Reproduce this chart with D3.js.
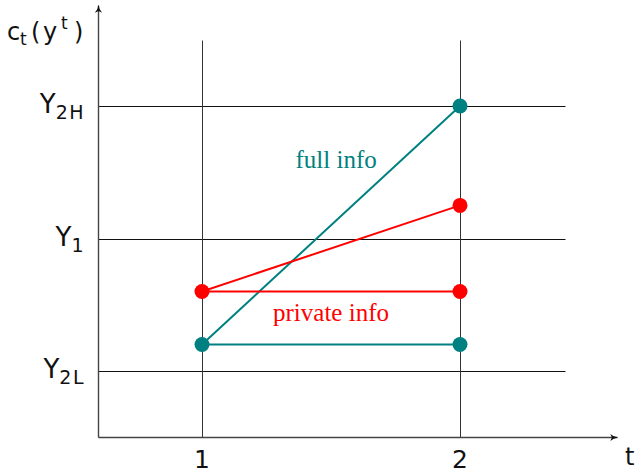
<!DOCTYPE html>
<html><head><meta charset="utf-8">
<script src="https://cdn.jsdelivr.net/npm/d3@7"></script>
<style>html,body{margin:0;padding:0;background:#fff;}</style>
</head><body>
<svg id="c" width="639" height="474"></svg>
<script>
// data
const periods = [1, 2];
const levelLabels = [{v: 1, main: "Y", sub: "2L"}, {v: 2, main: "Y", sub: "1"}, {v: 3, main: "Y", sub: "2H"}];
const fullSegments = [[{t: 1, c: 1.2}, {t: 2, c: 1.2}], [{t: 1, c: 1.2}, {t: 2, c: 3}]];
const privSegments = [[{t: 1, c: 1.6}, {t: 2, c: 1.6}], [{t: 1, c: 1.6}, {t: 2, c: 2.25}]];
const fullPoints = [{t: 1, c: 1.2}, {t: 2, c: 1.2}, {t: 2, c: 3}];
const privPoints = [{t: 1, c: 1.6}, {t: 2, c: 1.6}, {t: 2, c: 2.25}];

const teal = "#008080", red = "#ff0000";
const svg = d3.select("#c");
const x = d3.scaleLinear().domain([1, 2]).range([202, 460]);
const y = d3.scaleLinear().domain([1, 3]).range([371, 106]);

const xMin = 0.597, xGridMax = 2.407, xArrow = 2.61;
const yMin = 0.5, yVertTop = 3.5, yArrow = 3.765;

const grid = svg.append("g").attr("transform", "translate(0.5,0.5)");
// horizontal level lines
grid.selectAll("line.h").data(levelLabels).enter().append("line")
  .attr("x1", Math.round(x(xMin))).attr("x2", Math.round(x(xGridMax)))
  .attr("y1", d => Math.round(y(d.v))).attr("y2", d => Math.round(y(d.v)))
  .attr("stroke", "#111").attr("stroke-width", 1);
// vertical period lines
grid.selectAll("line.v").data(periods).enter().append("line")
  .attr("x1", d => Math.round(x(d))).attr("x2", d => Math.round(x(d)))
  .attr("y1", Math.round(y(yMin))).attr("y2", Math.round(y(yVertTop)))
  .attr("stroke", "#333").attr("stroke-width", 1);

// axes
const defs = svg.append("defs");
defs.append("marker").attr("id", "arr").attr("viewBox", "0 0 10 10")
  .attr("refX", 9).attr("refY", 5).attr("markerWidth", 8).attr("markerHeight", 8)
  .attr("markerUnits", "userSpaceOnUse").attr("orient", "auto")
  .append("path").attr("d", "M0,0.5 Q4,4.5 10,5 Q4,5.5 0,9.5 L2,5 Z").attr("fill", "#111");
grid.append("line").attr("x1", Math.round(x(xMin))).attr("x2", Math.round(x(xArrow)))
  .attr("y1", Math.round(y(yMin))).attr("y2", Math.round(y(yMin)))
  .attr("stroke", "#444").attr("stroke-width", 1.4).attr("marker-end", "url(#arr)");
grid.append("line").attr("x1", Math.round(x(xMin))).attr("x2", Math.round(x(xMin)))
  .attr("y1", Math.round(y(yMin))).attr("y2", Math.round(y(yArrow)))
  .attr("stroke", "#444").attr("stroke-width", 1.4).attr("marker-end", "url(#arr)");

// x tick labels
const sans = "'DejaVu Sans', sans-serif";
svg.selectAll("text.xt").data(periods).enter().append("text")
  .attr("x", d => x(d)).attr("y", y(yMin) + 31)
  .attr("text-anchor", "middle").attr("font-family", sans).attr("font-size", 25)
  .attr("fill", "#111").text(d => d);

// y labels
const yl = svg.selectAll("text.yl").data(levelLabels).enter().append("text")
  .attr("x", x(xMin) - 13).attr("y", d => y(d.v) + 7)
  .attr("text-anchor", "end").attr("font-family", sans).attr("font-size", 26).attr("fill", "#111");
yl.append("tspan").text(d => d.main);
yl.append("tspan").attr("dy", 6).attr("font-size", 19).attr("letter-spacing", 1.5).text(d => d.sub);

// axis titles
const yt = svg.append("text").attr("y", 40)
  .attr("font-family", sans).attr("font-size", 24).attr("fill", "#111");
yt.append("tspan").attr("x", 7).text("c");
yt.append("tspan").attr("x", 20).attr("dy", 5).attr("font-size", 17).text("t");
yt.append("tspan").attr("x", 31).attr("dy", -5).text("(");
yt.append("tspan").attr("x", 43).text("y");
yt.append("tspan").attr("x", 61).attr("dy", -11).attr("font-size", 17).text("t");
yt.append("tspan").attr("x", 74).attr("dy", 11).text(")");
svg.append("text").attr("x", 625).attr("y", 465)
  .attr("font-family", sans).attr("font-size", 24).attr("fill", "#111").text("t");

// segments
const line = d3.line().x(d => x(d.t)).y(d => y(d.c));
svg.selectAll("path.f").data(fullSegments).enter().append("path")
  .attr("d", line).attr("fill", "none").attr("stroke", teal).attr("stroke-width", 2);
svg.selectAll("path.p").data(privSegments).enter().append("path")
  .attr("d", line).attr("fill", "none").attr("stroke", red).attr("stroke-width", 2);
svg.selectAll("circle.f").data(fullPoints).enter().append("circle")
  .attr("cx", d => x(d.t)).attr("cy", d => y(d.c)).attr("r", 7.5).attr("fill", teal);
svg.selectAll("circle.p").data(privPoints).enter().append("circle")
  .attr("cx", d => x(d.t)).attr("cy", d => y(d.c)).attr("r", 7.5).attr("fill", red);

// annotations
const serif = "'Liberation Serif', 'DejaVu Serif', serif";
svg.append("text").attr("x", x(1.52)).attr("y", y(2.53))
  .attr("text-anchor", "middle").attr("font-family", serif).attr("font-size", 25)
  .attr("fill", teal).text("full info");
svg.append("text").attr("x", x(1.5)).attr("y", y(1.38))
  .attr("text-anchor", "middle").attr("font-family", serif).attr("font-size", 25)
  .attr("fill", red).text("private info");
</script>
</body></html>
